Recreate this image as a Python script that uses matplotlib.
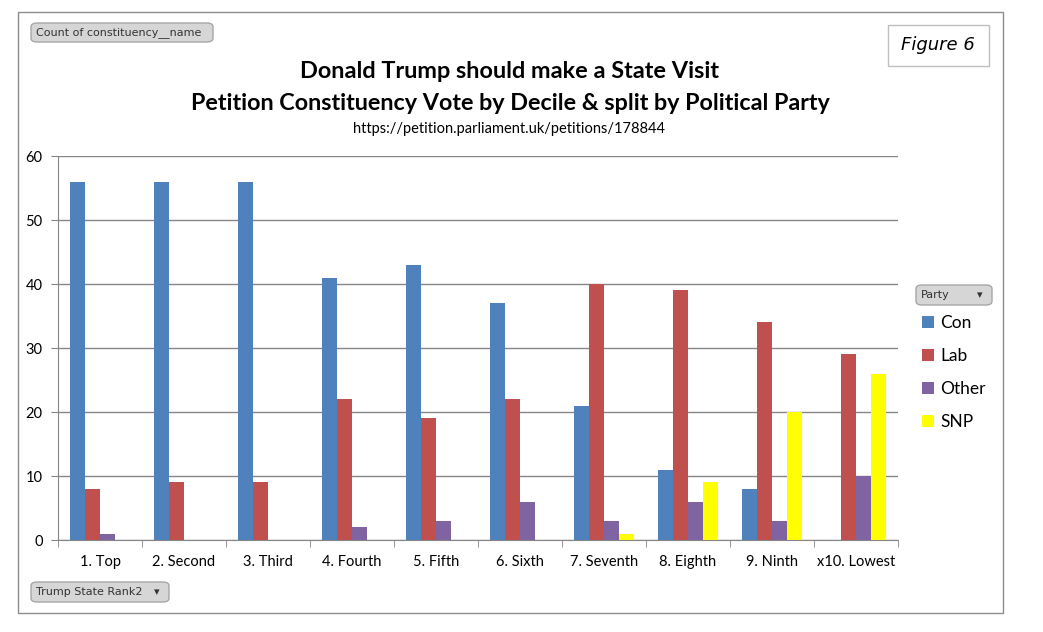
import matplotlib
matplotlib.use("Agg")
import matplotlib.pyplot as plt
import numpy as np
from matplotlib.patches import FancyBboxPatch, Rectangle

categories = ["1. Top", "2. Second", "3. Third", "4. Fourth", "5. Fifth",
              "6. Sixth", "7. Seventh", "8. Eighth", "9. Ninth", "x10. Lowest"]
con = [56, 56, 56, 41, 43, 37, 21, 11, 8, 0]
lab = [8, 9, 9, 22, 19, 22, 40, 39, 34, 29]
other = [1, 0, 0, 2, 3, 6, 3, 6, 3, 10]
snp = [0, 0, 0, 0, 0, 0, 1, 9, 20, 26]
series_names = ["Con", "Lab", "Other", "SNP"]
series_colors = ["#4F81BD", "#C0504D", "#8064A2", "#FFFF00"]
yticks = [0, 10, 20, 30, 40, 50, 60]

FONT = "Lato"
W, H = 1043, 632
fig = plt.figure(figsize=(W / 100, H / 100), dpi=100)

def fx(px):
    return px / W

def fy(py):
    return 1 - py / H

# outer frame
fig.patches.append(Rectangle((fx(18), fy(613)), fx(1003) - fx(18), fy(12) - fy(613),
                             transform=fig.transFigure, fill=False, edgecolor="#8c8c8c", lw=1))

ax = fig.add_axes([fx(58), fy(540), fx(898) - fx(58), fy(156) - fy(540)])
x = np.arange(len(categories))
bw = 0.18
data = [con, lab, other, snp]
for i, (vals, name, col) in enumerate(zip(data, series_names, series_colors)):
    ax.bar(x + (i - 1.5) * bw, vals, width=bw, color=col, label=name, zorder=3)

ax.set_xlim(-0.5, len(categories) - 0.5)
ax.set_ylim(0, 60)
ax.set_yticks(yticks)
ax.set_yticklabels([str(v) for v in yticks], fontsize=10.5, fontname=FONT)
ax.yaxis.grid(True, color="#868686", lw=1, zorder=0)
ax.set_xticks(x)
ax.set_xticklabels(categories, fontsize=10.5, fontname=FONT)
ax.set_xticks(np.arange(-0.5, len(categories), 1.0), minor=True)
ax.tick_params(axis="x", which="major", length=0, pad=11)
ax.tick_params(axis="x", which="minor", length=5, color="#868686", direction="out")
ax.tick_params(axis="y", length=5, color="#868686", pad=6)
for s in ["top", "right"]:
    ax.spines[s].set_visible(False)
ax.spines["left"].set_color("#868686")
ax.spines["bottom"].set_color("#868686")

# titles
fig.text(fx(510), fy(72), "Donald Trump should make a State Visit", ha="center", va="center",
         fontsize=16.9, fontweight="bold", fontname=FONT)
fig.text(fx(510), fy(103), "Petition Constituency Vote by Decile & split by Political Party",
         ha="center", va="center", fontsize=16.8, fontweight="bold", fontname=FONT)
fig.text(fx(509), fy(129), "https://petition.parliament.uk/petitions/178844", ha="center",
         va="center", fontsize=10.5, fontname=FONT)

# Figure 6 box
fig.patches.append(Rectangle((fx(888), fy(66)), fx(989) - fx(888), fy(25) - fy(66),
                             transform=fig.transFigure, fill=True, facecolor="white",
                             edgecolor="#bfbfbf", lw=1))
fig.text(fx(938), fy(45), "Figure 6", ha="center", va="center", fontsize=13,
         fontstyle="italic", fontname="DejaVu Sans")

def button(x0, y0, x1, y1, text, arrow=False):
    p = FancyBboxPatch((fx(x0), fy(y1)), fx(x1) - fx(x0), fy(y0) - fy(y1),
                       boxstyle="round,pad=0,rounding_size=0.006",
                       transform=fig.transFigure, facecolor="#d6d6d6",
                       edgecolor="#a6a6a6", lw=1)
    fig.patches.append(p)
    fig.text(fx(x0 + 5), fy((y0 + y1) / 2), text, ha="left", va="center",
             fontsize=8, fontname="DejaVu Sans", color="#333333")
    if arrow:
        fig.text(fx(x1 - 12), fy((y0 + y1) / 2), "\u25BE", ha="center", va="center",
                 fontsize=8, color="#333333", fontname="DejaVu Sans")

button(31, 23, 213, 42, "Count of constituency__name")
button(31, 582, 169, 602, "Trump State Rank2", arrow=True)
button(916, 285, 992, 305, "Party", arrow=True)

# legend
handles, labels = ax.get_legend_handles_labels()
leg = fig.legend(handles, labels, loc="upper left", bbox_to_anchor=(fx(915), fy(308)),
                 frameon=False, prop={"family": FONT, "size": 12.5},
                 handlelength=0.7, handleheight=0.7, handletextpad=0.35,
                 labelspacing=0.98, borderaxespad=0)

fig.savefig("out.png", dpi=100)
